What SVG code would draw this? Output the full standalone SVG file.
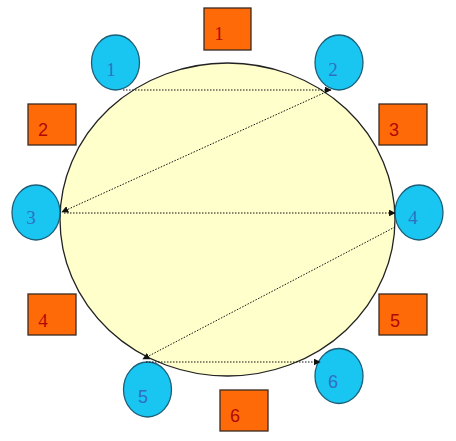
<svg xmlns="http://www.w3.org/2000/svg" width="456" height="441" viewBox="0 0 456 441">
<style>
.bg{fill:#ffffff}
.ring{fill:#ffffcc;stroke:#222222;stroke-width:1.3}
.peer{fill:#19c6f2;stroke:#1d5f78;stroke-width:1.3}
.box{fill:#ff6a08;stroke:#3a2a20;stroke-width:1.3}
.pl{font-family:"Liberation Serif",serif;font-size:19px;fill:#2f6fc4;text-anchor:middle}
.pls{font-family:"Liberation Sans",sans-serif;font-size:18px;fill:#2f6fc4;text-anchor:middle}
.bl{font-family:"Liberation Serif",serif;font-size:19px;fill:#b00808;text-anchor:middle}
.bls{font-family:"Liberation Sans",sans-serif;font-size:18px;fill:#b00808;text-anchor:middle}
.c{fill:none;stroke:#111111;stroke-width:1;stroke-dasharray:1.5 1.5}
</style>
<defs>
<marker id="ah" viewBox="0 0 10 10" refX="9" refY="5" markerWidth="7" markerHeight="7" markerUnits="userSpaceOnUse" orient="auto">
<path d="M0,0 L10,5 L0,10 z" fill="#111111"/>
</marker>
</defs>
<rect class="bg" x="0" y="0" width="456" height="441"/>
<g id="ring"><ellipse class="ring" cx="227.5" cy="219.5" rx="167.5" ry="156.5"/></g>
<g id="box1"><rect class="box" x="204" y="8" width="47" height="42"/><text class="bl" x="219" y="40">1</text></g>
<g id="box2"><rect class="box" x="28" y="104" width="48" height="41"/><text class="bls" x="43" y="136">2</text></g>
<g id="box3"><rect class="box" x="379" y="104" width="48" height="41"/><text class="bls" x="394" y="136">3</text></g>
<g id="box4"><rect class="box" x="28" y="294" width="48" height="41"/><text class="bl" x="43" y="327">4</text></g>
<g id="box5"><rect class="box" x="379" y="294" width="48" height="41"/><text class="bls" x="395" y="327">5</text></g>
<g id="box6"><rect class="box" x="220" y="390" width="48" height="41"/><text class="bls" x="235" y="422">6</text></g>
<g id="peer1"><ellipse class="peer" cx="115.5" cy="62.5" rx="24" ry="27.5"/><text class="pl" x="111" y="76">1</text></g>
<g id="peer2"><ellipse class="peer" cx="339" cy="62.5" rx="24" ry="27.5"/><text class="pl" x="333" y="76">2</text></g>
<g id="peer3"><ellipse class="peer" cx="36" cy="212.5" rx="24" ry="27.5"/><text class="pl" x="31" y="224">3</text></g>
<g id="peer4"><ellipse class="peer" cx="419" cy="212.5" rx="24" ry="27.5"/><text class="pl" x="413" y="224">4</text></g>
<g id="peer5"><ellipse class="peer" cx="147.5" cy="389.5" rx="24" ry="27.5"/><text class="pls" x="143" y="403">5</text></g>
<g id="peer6"><ellipse class="peer" cx="339" cy="376" rx="24" ry="27.5"/><text class="pls" x="333" y="388">6</text></g>
<g id="connectors">
<line class="c" x1="123" y1="90" x2="331" y2="90" marker-end="url(#ah)"/>
<line class="c" x1="326" y1="92" x2="62" y2="212" marker-end="url(#ah)"/>
<line class="c" x1="64" y1="213" x2="395" y2="213" marker-end="url(#ah)"/>
<line class="c" x1="395" y1="227" x2="143" y2="359" marker-end="url(#ah)"/>
<line class="c" x1="146" y1="362" x2="320" y2="362" marker-end="url(#ah)"/>
</g>
</svg>
